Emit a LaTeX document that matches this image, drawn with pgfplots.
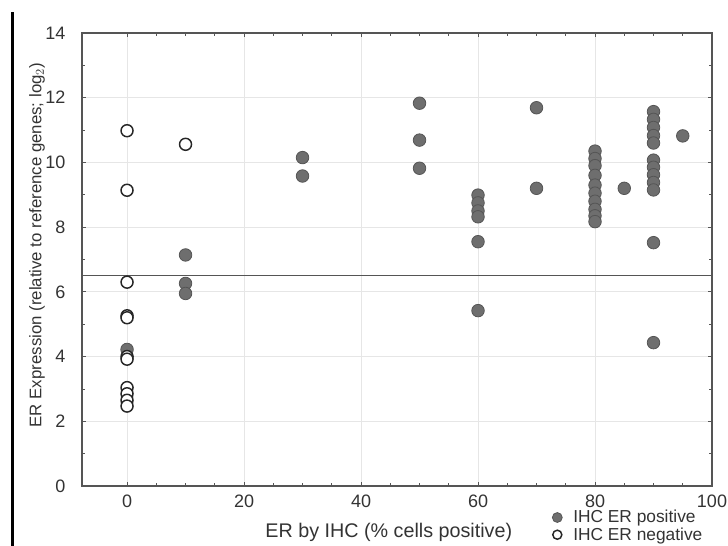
\documentclass[border=0pt]{standalone}
\usepackage{pgfplots}
\pgfplotsset{compat=1.18}
\usepackage{fontspec}
\setmainfont{Liberation Sans}
\definecolor{txt}{HTML}{333333}
\definecolor{axc}{HTML}{555555}
\definecolor{posfill}{HTML}{6E6E6E}
\definecolor{posedge}{HTML}{555555}
\definecolor{gridc}{HTML}{E6E6E6}
\pgfplotsset{smallleg/.style={legend image code/.code={\draw[##1, mark size=#1] plot coordinates {(0.15cm,0cm)}; \path[draw=none] (0cm,0cm) -- (0.5cm,0cm);}}}
\begin{document}
\begin{tikzpicture}
\path[use as bounding box] (0,0) rectangle (546pt,409.5pt);
\fill[black] (8.6pt,0) rectangle (10.2pt,400.5pt);
\begin{axis}[
  at={(61.5pt,45pt)}, anchor=south west,
  scale only axis, width=472.5pt, height=339.75pt,
  xmin=-7.7, xmax=100, ymin=0, ymax=14,
  xtick={0,20,40,60,80,100}, ytick={0,2,4,6,8,10,12,14},
  minor x tick num=3, minor y tick num=1,
  tick pos=both, tick align=inside,
  major tick length=3pt, minor tick length=2pt,
  tick style={axc, line width=0.6pt},
  axis line style={axc, line width=1pt},
  grid=major, grid style={gridc, line width=0.6pt},
  /pgf/number format/assume math mode=true,
  ticklabel style={font=\fontsize{13.5}{15}\selectfont, text=txt},
  yticklabel style={xshift=-9pt},
  xticklabel style={yshift=-3pt},
  xlabel={ER by IHC (\% cells positive)},
  xlabel style={at={(axis description cs:0.487,-0.1035)}, anchor=center, font=\fontsize{14.8}{17}\selectfont, text=txt},
  ylabel={ER Expression (relative to reference genes; log$_2$)},
  ylabel style={at={(axis description cs:-0.0714,0.532)}, anchor=center, font=\fontsize{12.6}{14}\selectfont, text=txt},
  legend style={at={(axis description cs:0.745,-0.047)}, anchor=north west, draw=none, fill=none,
     font=\fontsize{13}{14}\selectfont, text=txt, row sep=-2pt, inner sep=0pt},
  legend cell align=left,
  clip=false,
]
\addplot[no marks, axc, line width=1pt, forget plot] coordinates {(-7.7,6.5) (100,6.5)};
\addplot[only marks, mark=*, mark size=4.7pt, mark options={fill=posfill, draw=posedge, line width=0.6pt}, smallleg=3.7pt]
coordinates {
(0,4.22)
(10,7.14) (10,6.26) (10,5.95)
(30,10.15) (30,9.58)
(50,11.83) (50,10.69) (50,9.82)
(60,8.99) (60,8.75) (60,8.5) (60,8.32) (60,7.55) (60,5.42)
(70,11.69) (70,9.2)
(80,10.35) (80,10.12) (80,9.9) (80,9.6) (80,9.3) (80,9.05) (80,8.8) (80,8.55) (80,8.35) (80,8.17)
(85,9.2)
(90,11.57) (90,11.33) (90,11.08) (90,10.83) (90,10.6) (90,10.07) (90,9.85) (90,9.62) (90,9.38) (90,9.15) (90,7.52) (90,4.43)
(95,10.82)
};
\addlegendentry{IHC ER positive}
\addplot[only marks, mark=*, mark size=4.5pt, mark options={fill=white, draw=black!85, line width=1.1pt}, smallleg=3.4pt]
coordinates {
(0,10.98) (0,9.14) (0,6.3) (0,5.26) (0,5.2) (0,4.0) (0,3.92) (0,3.04) (0,2.85) (0,2.65) (0,2.47)
(10,10.56)
};
\addlegendentry{IHC ER negative}
\end{axis}
\end{tikzpicture}
\end{document}
